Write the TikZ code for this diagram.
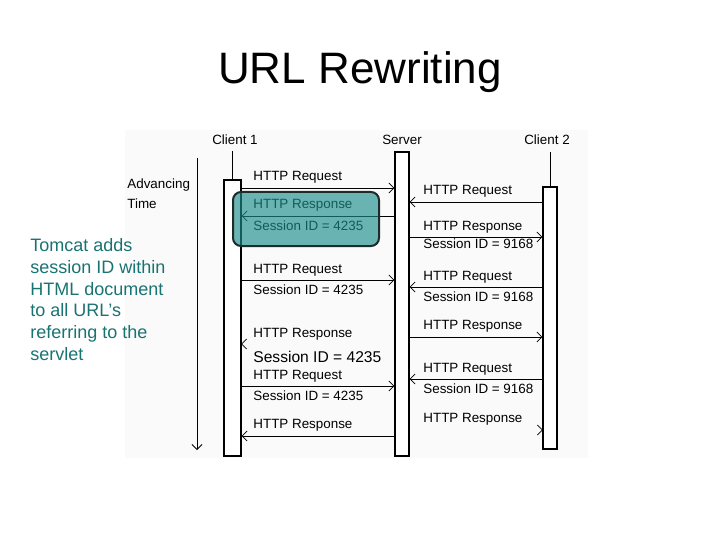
\documentclass[tikz,border=0pt]{standalone}
\usepackage{fontspec}
\setmainfont{Liberation Sans}
\usetikzlibrary{arrows.meta, positioning}
\definecolor{noteteal}{HTML}{1A7373}
\definecolor{hiteal}{HTML}{1C8D8D}
\definecolor{hiedge}{HTML}{1E2B2B}
\definecolor{shot}{HTML}{FAFAFA}

\begin{document}
\begin{tikzpicture}[
    x=1pt, y=-1pt,
    line width=0.8pt,
    msg/.style={draw, line width=0.8pt, -{Straight Barb[length=5pt, width=10pt, line width=0.8pt]}},
    lifebox/.style={draw, line width=1.2pt, fill=white, inner sep=0pt, minimum width=15pt},
    lbl/.style={font=\fontsize{13.4}{14}\selectfont, anchor=base west, inner sep=0pt},
    headlbl/.style={font=\fontsize{13.4}{14}\selectfont, anchor=base, inner sep=0pt},
  ]
  \useasboundingbox (0,0) rectangle (720,540);
  \fill[white] (0,0) rectangle (720,540);

  % Title
  \node[font=\fontsize{44}{50}\selectfont, anchor=base, inner sep=0pt] (title) at (360,84) {URL Rewriting};

  % Screenshot area
  \fill[shot] (125,130) rectangle (588,458);

  % Side note (base = last line)
  \node[font=\fontsize{18}{21.8}\selectfont, text=noteteal, anchor=base west,
        align=left, inner sep=0pt] (note) at (30,360.5)
    {Tomcat adds\\session ID within\\HTML document\\to all URL’s\\referring to the\\servlet};

  %%% Lifelines %%%
  \node[headlbl] (c1lab) at (235,145) {Client 1};
  \node[headlbl] (srvlab) at (402,145) {Server};
  \node[headlbl] (c2lab) at (547,145) {Client 2};

  \node[lifebox, minimum width=17pt, minimum height=276pt] (c1) at (232.5,318) {};
  \node[lifebox, minimum width=14pt, minimum height=304pt] (srv) at (402,304) {};
  \node[lifebox, minimum width=14pt, minimum height=262pt] (c2) at (550,318) {};
  \draw (c1.north) -- ++(0,-28);
  \draw (c2.north) -- ++(0,-34);

  % Advancing time
  \node[font=\fontsize{13.4}{20}\selectfont, anchor=base west, align=left, inner sep=0pt] (timelab)
    at (127,208) {Advancing\\Time};
  \coordinate (ttop) at (197,158);
  \coordinate (tend) at (197,450);
  \draw[msg] (ttop) -- (tend);

  %%% Client 1 <-> Server %%%
  \node[lbl] (a1) at (253,181) {HTTP Request};
  \draw[msg] (c1.east |- 0,188) -- (srv.west |- 0,188);

  \node[lbl] (a2) at (253,208) {HTTP Response};
  \node[lbl] (a2s) at (253,230) {Session ID = 4235};
  \draw[msg] (srv.west |- 0,216) -- (c1.east |- 0,216);

  \node[lbl] (a3) at (253,273) {HTTP Request};
  \node[lbl] (a3s) at (253,294) {Session ID = 4235};
  \draw[msg] (c1.east |- 0,280) -- (srv.west |- 0,280);

  \node[lbl] (a4) at (253,337) {HTTP Response};
  \draw (c1.east |- 0,344) ++(5,-5) -- ++(-5,5) -- ++(5,5);
  \node[font=\fontsize{15.6}{17}\selectfont, anchor=base west, inner sep=0pt] (a4s)
    at (253,362) {Session ID = 4235};

  \node[lbl] (a5) at (253,379) {HTTP Request};
  \node[lbl] (a5s) at (253,400) {Session ID = 4235};
  \draw[msg] (c1.east |- 0,386) -- (srv.west |- 0,386);

  \node[lbl] (a6) at (253,428) {HTTP Response};
  \draw[msg] (srv.west |- 0,436) -- (c1.east |- 0,436);

  %%% Server <-> Client 2 %%%
  \node[lbl] (b1) at (423,195) {HTTP Request};
  \draw[msg] (c2.west |- 0,202) -- (srv.east |- 0,202);

  \node[lbl] (b2) at (423,230) {HTTP Response};
  \node[lbl] (b2s) at (423,248) {Session ID = 9168};
  \draw[msg] (srv.east |- 0,237) -- (c2.west |- 0,237);

  \node[lbl] (b3) at (423,280) {HTTP Request};
  \node[lbl] (b3s) at (423,301) {Session ID = 9168};
  \draw[msg] (c2.west |- 0,287) -- (srv.east |- 0,287);

  \node[lbl] (b4) at (423,329) {HTTP Response};
  \draw[msg] (srv.east |- 0,337) -- (c2.west |- 0,337);

  \node[lbl] (b5) at (423,372) {HTTP Request};
  \node[lbl] (b5s) at (423,393) {Session ID = 9168};
  \draw[msg] (c2.west |- 0,379) -- (srv.east |- 0,379);

  \node[lbl] (b6) at (423,422) {HTTP Response};
  \draw (c2.west |- 0,430) ++(-5,-5) -- ++(5,5) -- ++(-5,5);

  % Highlight of the first response
  \draw[hiedge, line width=2pt, fill=hiteal, fill opacity=0.65, rounded corners=8pt]
    (233,192) rectangle (379,246);

\end{tikzpicture}
\end{document}
